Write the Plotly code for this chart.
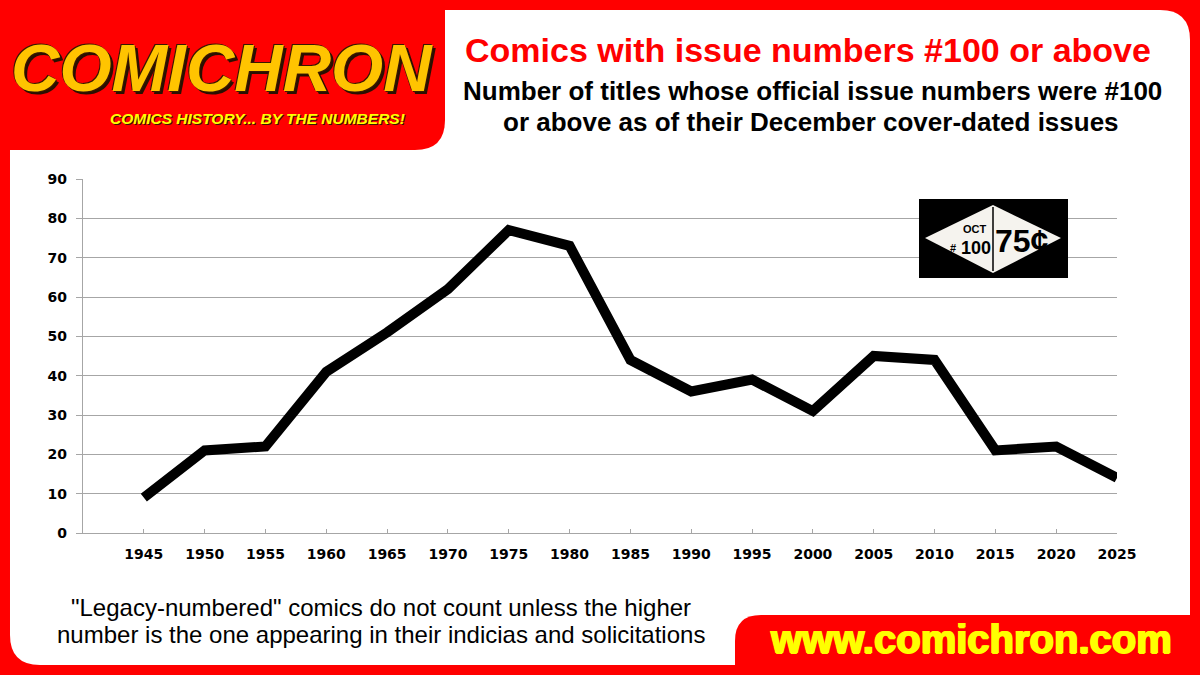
import plotly.graph_objects as go

# --- data ---
years = [1945, 1950, 1955, 1960, 1965, 1970, 1975, 1980, 1985,
         1990, 1995, 2000, 2005, 2010, 2015, 2020, 2025]
titles_100_plus = [9, 21, 22, 41, 51, 62, 77, 73, 44,
                   36, 39, 31, 45, 44, 21, 22, 14]
y_ticks = [0, 10, 20, 30, 40, 50, 60, 70, 80, 90]

title = "Comics with issue numbers #100 or above"
subtitle = ["Number of titles whose official issue numbers were #100",
            "or above as of their December cover-dated issues"]
footnote = ["\"Legacy-numbered\" comics do not count unless the higher",
            "number is the one appearing in their indicias and solicitations"]
url = "www.comichron.com"

W, H = 1200, 675
L, R, T, B = 83, 83, 179, 142
RED, YEL, GRID = "#ff0000", "#ffff00", "#a6a6a6"
SANS = "Liberation Sans, Arial, sans-serif"
TICKF = "Verdana, DejaVu Sans, sans-serif"


def px(x):
    return (x - L) / (W - L - R)


def py(y):
    return (H - B - y) / (H - T - B)


def pt(x, y):
    return f"{px(x):.5f},{py(y):.5f}"


def rounded(x0, y0, x1, y1, tl=0, tr=0, br=0, bl=0):
    return ("M" + pt(x0 + tl, y0) + " L" + pt(x1 - tr, y0) +
            " Q" + pt(x1, y0) + " " + pt(x1, y0 + tr) +
            " L" + pt(x1, y1 - br) +
            " Q" + pt(x1, y1) + " " + pt(x1 - br, y1) +
            " L" + pt(x0 + bl, y1) +
            " Q" + pt(x0, y1) + " " + pt(x0, y1 - bl) +
            " L" + pt(x0, y0 + tl) +
            " Q" + pt(x0, y0) + " " + pt(x0 + tl, y0) + " Z")


fig = go.Figure()
fig.add_trace(go.Scatter(x=years, y=titles_100_plus, mode="lines",
                         line=dict(color="black", width=10),
                         hovertemplate="%{x}: %{y} titles<extra></extra>"))

shapes = [
    # white card
    dict(type="path", path=rounded(10, 10, 1190, 665, 30, 30, 30, 30),
         fillcolor="white", line_width=0, layer="below"),
    # logo block
    dict(type="path", path=rounded(-5, -5, 445, 150, 0, 0, 30, 0),
         fillcolor=RED, line_width=0, layer="below"),
    # url block
    dict(type="path", path=rounded(735, 615, 1205, 680, 26, 0, 0, 0),
         fillcolor=RED, line_width=0, layer="below"),
    # issue-number badge
    dict(type="rect", x0=px(919), x1=px(1068), y0=py(278), y1=py(199),
         fillcolor="black", line_width=0),
    dict(type="path", path="M" + pt(925, 238) + " L" + pt(993, 205) + " L" +
         pt(1061, 238) + " L" + pt(993, 273) + " Z",
         fillcolor="#f5f3ee", line_width=0),
    dict(type="line", x0=px(993), x1=px(993), y0=py(207), y1=py(271),
         line=dict(color="black", width=1.5)),
]
for s in shapes:
    s["xref"] = "paper"
    s["yref"] = "paper"

ann = []


def text(x, y, s, size, color="black", family=SANS, weight="normal",
         style="normal", shadow="none"):
    ann.append(dict(x=px(x), y=py(y), xref="paper", yref="paper", text=s,
                    showarrow=False, xanchor="center", yanchor="middle",
                    font=dict(size=size, color=color, family=family,
                              weight=weight, style=style, shadow=shadow)))


# logo
text(222, 68, "COMICHRON", 67, color="#ffc400", weight="bold", style="italic",
     shadow="-1px -1px 0 #3a1800, 1px 1px 0 #3a1800, 3px 3px 0 #2a1000")
text(257, 118, "COMICS HISTORY... BY THE NUMBERS!", 15.5, color=YEL,
     weight="bold", style="italic", shadow="1px 1px 0 #3a1800")

# titles
text(808, 50, title, 34, color=RED, weight="bold")
text(812, 91, subtitle[0], 26, weight="bold")
text(811, 122, subtitle[1], 26, weight="bold")

# footnote
text(381, 607, footnote[0], 24)
text(381, 634, footnote[1], 24)

# url
text(971, 639, url, 40, color=YEL, weight="bold",
     shadow=f"1px 0 0 {YEL}, -1px 0 0 {YEL}, 0 1px 0 {YEL}")

# badge text
text(975, 229, "OCT", 11, weight="bold")
text(953, 248, "#", 11, weight="bold")
text(976, 248, "100", 18, weight="bold")
text(1022, 241, "75¢", 32, weight="bold")

fig.update_layout(
    width=W, height=H,
    margin=dict(l=L, r=R, t=T, b=B, pad=0),
    paper_bgcolor=RED, plot_bgcolor="rgba(0,0,0,0)",
    showlegend=False,
    shapes=shapes, annotations=ann,
    font=dict(family=SANS),
    xaxis=dict(range=[1940, 2025], tickvals=years, showgrid=False,
               showline=True, linecolor=GRID, linewidth=1.2,
               ticks="inside", ticklen=4, tickcolor=GRID, tickwidth=1,
               tickfont=dict(family=TICKF, size=14, color="black", weight="bold"),
               ticklabelstandoff=8, zeroline=False, fixedrange=True),
    yaxis=dict(range=[0, 90], tickvals=y_ticks, showgrid=True,
               gridcolor=GRID, gridwidth=1.2,
               showline=True, linecolor=GRID, linewidth=1.2,
               ticks="outside", ticklen=6, tickcolor=GRID, tickwidth=1.2,
               tickfont=dict(family=TICKF, size=14, color="black", weight="bold"),
               ticklabelstandoff=6, zeroline=False, fixedrange=True),
)

# drop the page's default body margin so the figure sits flush in the window
fig.write_html("out.html", config={"displayModeBar": False},
               post_script="document.body.style.margin='0';")
